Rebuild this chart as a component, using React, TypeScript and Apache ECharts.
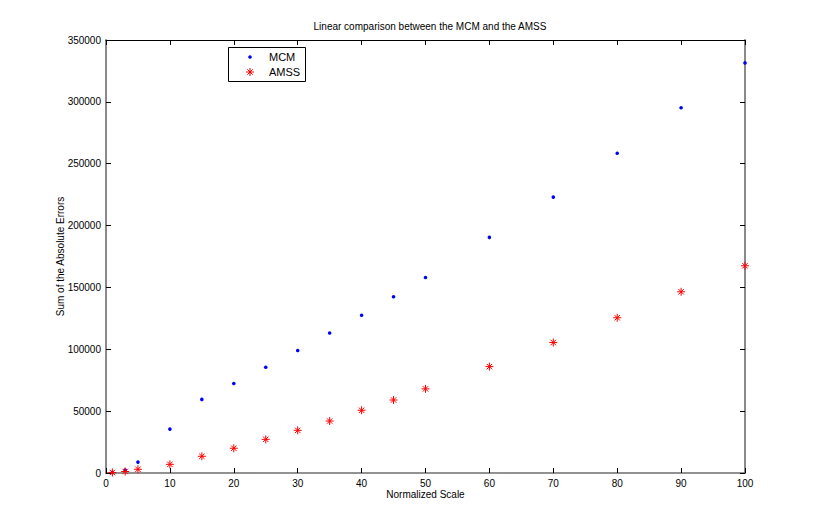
import React, { useEffect, useRef } from "react";
import * as echarts from "echarts";

const scaleX = [1, 3, 5, 10, 15, 20, 25, 30, 35, 40, 45, 50, 60, 70, 80, 90, 100];
const mcmValues = [500, 2400, 8800, 35500, 59500, 72300, 85500, 99000, 113200, 127500, 142500, 158000, 190500, 223000, 258500, 295200, 331500];
const amssValues = [400, 1200, 3000, 7000, 13500, 20000, 27200, 34500, 42000, 50700, 59000, 68000, 86000, 105500, 125500, 146500, 167500];
const xTicks = [0, 10, 20, 30, 40, 50, 60, 70, 80, 90, 100];
const yTicks = [0, 50000, 100000, 150000, 200000, 250000, 300000, 350000];
const legendNames = ["MCM", "AMSS"];

const FONT = "Liberation Sans, Arial, sans-serif";
const STAR = "path://M0,4 L8,4 M4,0 L4,8 M1.3,1.3 L6.7,6.7 M6.7,1.3 L1.3,6.7";

export default function App() {
  const ref = useRef<HTMLDivElement>(null);
  useEffect(() => {
    if (!ref.current) return;
    const chart = echarts.init(ref.current, null, { renderer: "svg" });
    const mcm = scaleX.map((x, i) => [x, mcmValues[i]]);
    const amss = scaleX.map((x, i) => [x, amssValues[i]]);
    const tick = { show: true, inside: true, length: 5, lineStyle: { color: "#000", width: 1 } };
    const xMin = xTicks[0], xMax = xTicks[xTicks.length - 1], xInt = xTicks[1] - xTicks[0];
    const yMin = yTicks[0], yMax = yTicks[yTicks.length - 1], yInt = yTicks[1] - yTicks[0];
    const labelStyle = { fontFamily: FONT, fontSize: 10, color: "#000", margin: 5, formatter: (v: number) => String(v) };
    chart.setOption({
      animation: false,
      backgroundColor: "#fff",
      title: {
        text: "Linear comparison between the MCM and the AMSS",
        left: 425,
        textAlign: "center",
        top: 16,
        textStyle: { fontFamily: FONT, fontSize: 10, fontWeight: "normal", color: "#000" },
      },
      grid: { left: 106, right: 75, top: 40, bottom: 59 },
      xAxis: [
        {
          type: "value", min: xMin, max: xMax, interval: xInt, position: "bottom",
          name: "Normalized Scale", nameLocation: "middle", nameGap: 16, nameMoveOverlap: false,
          nameTextStyle: { fontFamily: FONT, fontSize: 10, color: "#000" },
          axisLine: { show: true, onZero: false, lineStyle: { color: "#6e6e6e", width: 1.5 } },
          axisLabel: labelStyle, axisTick: tick, splitLine: { show: false },
        },
        {
          type: "value", min: xMin, max: xMax, interval: xInt, position: "top",
          axisLine: { show: true, onZero: false, lineStyle: { color: "#000", width: 1 } },
          axisLabel: { show: false }, axisTick: tick, splitLine: { show: false },
        },
      ],
      yAxis: [
        {
          type: "value", min: yMin, max: yMax, interval: yInt, position: "left",
          name: "Sum of the Absolute Errors", nameLocation: "middle", nameGap: 41, nameMoveOverlap: false,
          nameTextStyle: { fontFamily: FONT, fontSize: 10, color: "#000" },
          axisLine: { show: true, onZero: false, lineStyle: { color: "#8a8a8a", width: 2 } },
          axisLabel: labelStyle, axisTick: tick, splitLine: { show: false },
        },
        {
          type: "value", min: yMin, max: yMax, interval: yInt, position: "right",
          axisLine: { show: true, onZero: false, lineStyle: { color: "#8a8a8a", width: 2 } },
          axisLabel: { show: false }, axisTick: tick, splitLine: { show: false },
        },
      ],
      graphic: [
        { type: "rect", left: 228, top: 47, shape: { width: 77, height: 34 }, style: { fill: "#fff", stroke: "#000", lineWidth: 1 }, z: 100 },
        { type: "circle", shape: { cx: 250, cy: 57, r: 1.8 }, style: { fill: "#0000ff" }, z: 101 },
        { type: "line", shape: { x1: 246, y1: 72, x2: 254, y2: 72 }, style: { stroke: "#ff0000", lineWidth: 1 }, z: 101 },
        { type: "line", shape: { x1: 250, y1: 68, x2: 250, y2: 76 }, style: { stroke: "#ff0000", lineWidth: 1 }, z: 101 },
        { type: "line", shape: { x1: 247.3, y1: 69.3, x2: 252.7, y2: 74.7 }, style: { stroke: "#ff0000", lineWidth: 1 }, z: 101 },
        { type: "line", shape: { x1: 252.7, y1: 69.3, x2: 247.3, y2: 74.7 }, style: { stroke: "#ff0000", lineWidth: 1 }, z: 101 },
        { type: "text", x: 269, y: 57, style: { text: legendNames[0], fontFamily: FONT, fontSize: 11, fill: "#000", verticalAlign: "middle" }, z: 101 },
        { type: "text", x: 269, y: 72, style: { text: legendNames[1], fontFamily: FONT, fontSize: 11, fill: "#000", verticalAlign: "middle" }, z: 101 },
      ],
      series: [
        {
          name: legendNames[0], type: "scatter", data: mcm, symbol: "circle", symbolSize: 3.6,
          itemStyle: { color: "#0000ff", opacity: 1 }, z: 3,
        },
        {
          name: legendNames[1], type: "scatter", data: amss, symbol: STAR, symbolSize: 8,
          itemStyle: { color: "#ff0000", borderColor: "#ff0000", borderWidth: 1, opacity: 1 }, z: 4,
        },
        { type: "scatter", xAxisIndex: 1, yAxisIndex: 1, data: [], silent: true },
      ],
    });
    return () => chart.dispose();
  }, []);
  return <div ref={ref} style={{ position: "absolute", left: 0, top: 0, width: 820, height: 532 }} />;
}
